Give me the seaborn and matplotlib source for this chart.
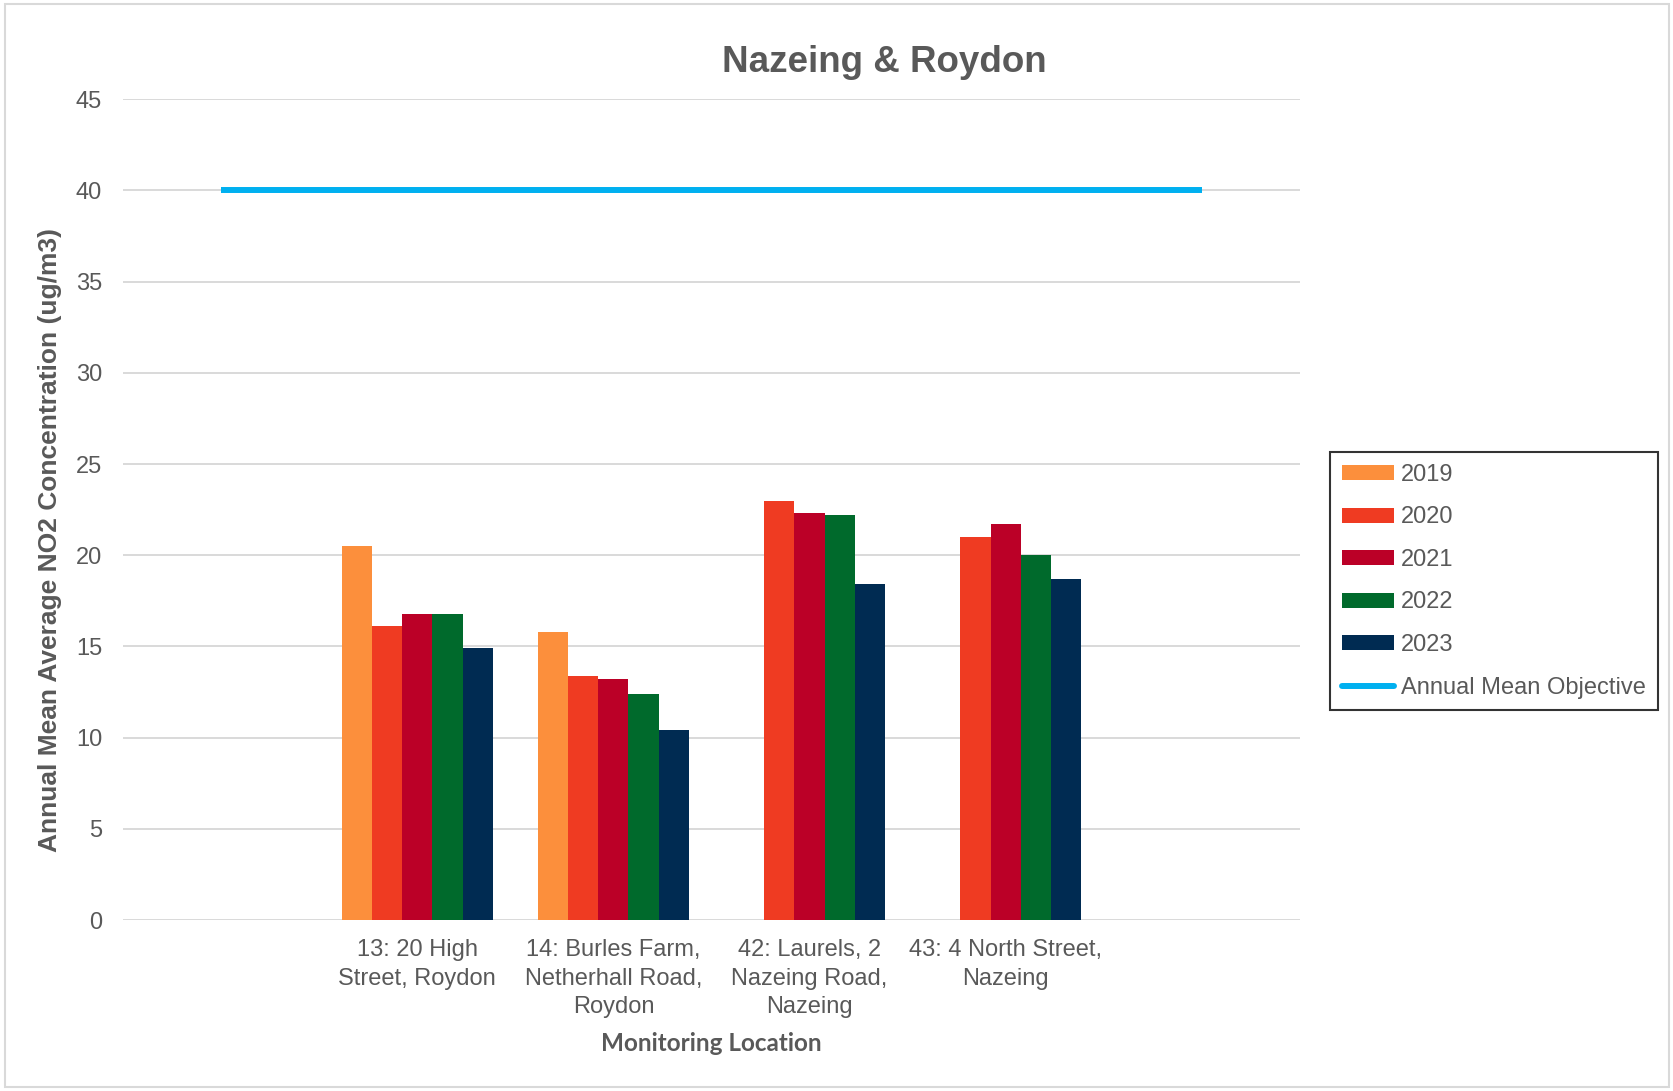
import matplotlib
matplotlib.use('Agg')
import matplotlib.pyplot as plt
import numpy as np
import pandas as pd
import seaborn as sns
from matplotlib.patches import Patch, Rectangle
from matplotlib.lines import Line2D

# data
locations = ['13: 20 High\nStreet, Roydon',
             '14: Burles Farm,\nNetherhall Road,\nRoydon',
             '42: Laurels, 2\nNazeing Road,\nNazeing',
             '43: 4 North Street,\nNazeing']
years = ['2019', '2020', '2021', '2022', '2023']
no2_2019 = [20.5, 15.8, np.nan, np.nan]
no2_2020 = [16.1, 13.4, 23.0, 21.0]
no2_2021 = [16.8, 13.2, 22.3, 21.7]
no2_2022 = [16.8, 12.4, 22.2, 20.0]
no2_2023 = [14.9, 10.4, 18.4, 18.7]
objective = 40

colors = ['#FC8F3C', '#EF3B22', '#BB0027', '#006A2C', '#002B52']
line_color = '#00B0F0'
text_color = '#595959'
grid_color = '#D9D9D9'


def create_df():
    series = [no2_2019, no2_2020, no2_2021, no2_2022, no2_2023]
    rows = []
    for year, vals in zip(years, series):
        for loc, v in zip(locations, vals):
            rows.append({'location': loc, 'year': year, 'value': v})
    return pd.DataFrame(rows).dropna()


def plot_chart():
    sns.set_style('white')
    plt.rcParams['font.family'] = ['Liberation Sans', 'DejaVu Sans']

    fig = plt.figure(figsize=(16.74, 10.91), dpi=100)
    ax = fig.add_axes([0.0735, 0.1567, 0.703, 0.7523])

    # empty slots either side, like the original
    order = [''] + locations + [' ']
    sns.barplot(data=create_df(), x='location', y='value', hue='year',
                order=order, hue_order=years, palette=colors,
                saturation=1, width=0.77, linewidth=0, legend=False,
                ax=ax, zorder=3)

    ax.plot([0, len(order) - 1], [objective, objective],
            color=line_color, lw=4.3, zorder=4, solid_capstyle='butt')

    ax.set_xlim(-0.5, len(order) - 0.5)
    ax.set_ylim(0, 45)
    ax.set_yticks(np.arange(0, 46, 5))
    ax.yaxis.grid(True, color=grid_color, lw=1.4, zorder=0)
    ax.set_axisbelow(True)
    for s in ax.spines.values():
        s.set_visible(False)

    ax.tick_params(axis='both', length=0, labelcolor=text_color)
    ax.tick_params(axis='y', pad=15, labelsize=17)
    ax.tick_params(axis='x', pad=14, labelsize=17)
    for lab in ax.get_xticklabels():
        lab.set_linespacing(1.36)

    ax.set_xlabel('Monitoring Location', fontsize=17.5, fontweight='bold',
                  color=text_color, family=['Lato', 'DejaVu Sans'], labelpad=10)
    ax.set_ylabel('Annual Mean Average NO2 Concentration (ug/m3)', fontsize=19,
                  fontweight='bold', color=text_color)
    ax.yaxis.set_label_coords(-0.052, 0.463)

    fig.text(0.528, 0.943, 'Nazeing & Roydon', ha='center', va='center',
             fontsize=26.5, fontweight='bold', color=text_color)

    handles = [Patch(facecolor=c, edgecolor='none') for c in colors]
    handles.append(Line2D([], [], color=line_color, lw=4.3))
    leg = fig.legend(handles, years + ['Annual Mean Objective'],
                     loc='upper left', bbox_to_anchor=(1330 / 1674, 1 - 452 / 1091),
                     fontsize=17, frameon=True, fancybox=False,
                     edgecolor='black', handlelength=2.2, handleheight=0.6,
                     labelspacing=0.87, handletextpad=0.3, borderpad=0.5,
                     borderaxespad=0)
    leg.get_frame().set_linewidth(1.5)
    for t in leg.get_texts():
        t.set_color(text_color)

    # thin outer chart border
    fig.patches.append(Rectangle((0.003, 0.004), 0.994, 0.992, transform=fig.transFigure,
                                 fill=False, edgecolor='#D9D9D9', lw=1.5))

    fig.savefig('out.png', dpi=100)


if __name__ == '__main__':
    plot_chart()
